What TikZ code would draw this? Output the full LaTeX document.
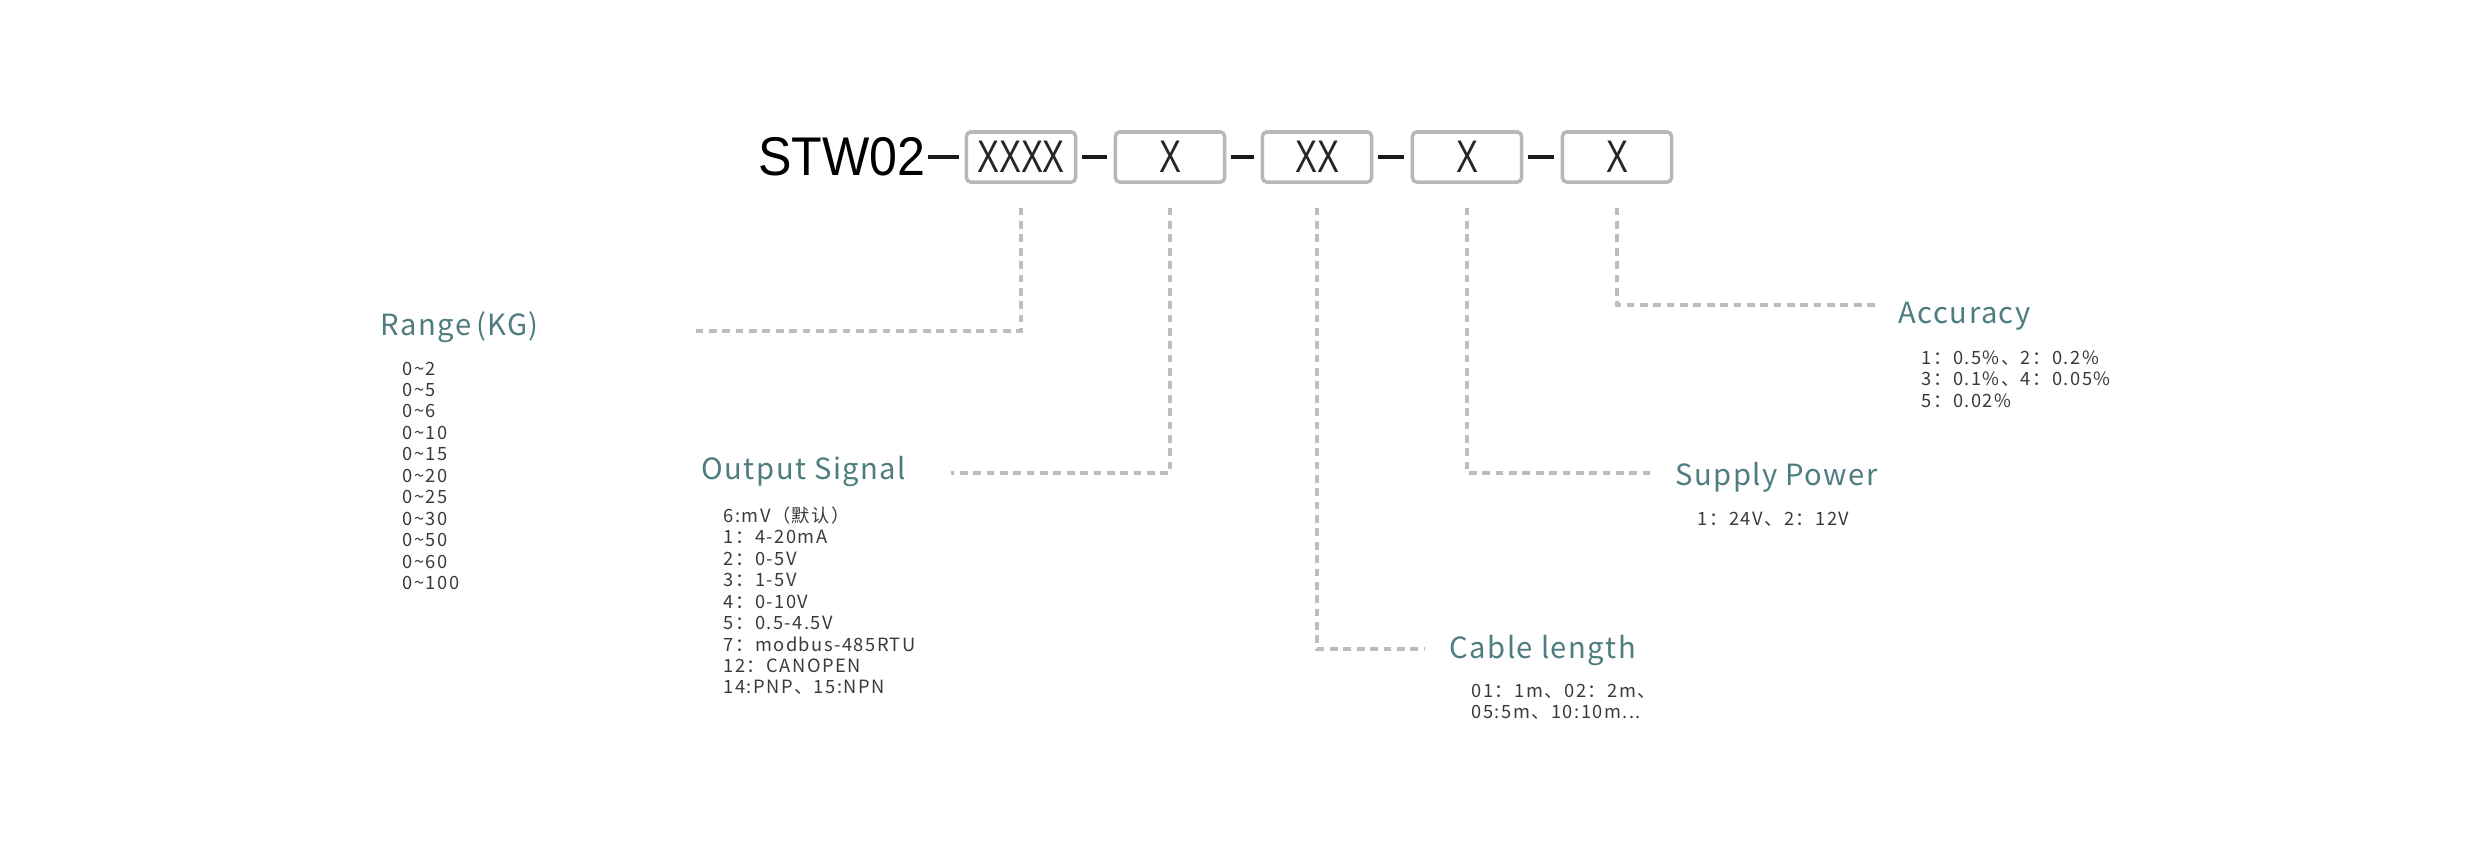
\documentclass[tikz,border=0pt]{standalone}
\usepackage{fontspec}
\setmainfont{Noto Sans CJK SC}
\newfontfamily\boxfont{Liberation Sans}
\newfontfamily\bodyfont[LetterSpace=8]{Noto Sans CJK SC}
\newfontfamily\titlefont[LetterSpace=5]{Noto Sans CJK SC}
\definecolor{teal1}{HTML}{4E7C80}
\definecolor{txt}{HTML}{3A3A3A}
\definecolor{dash}{HTML}{BDBDBD}
\definecolor{boxc}{HTML}{B8B8B8}
\begin{document}
\begin{tikzpicture}[x=0.01cm,y=-0.01cm,
  box/.style={draw=boxc,line width=1pt,rounded corners=1.2pt,minimum width=1.09cm,minimum height=0.5cm,inner sep=0pt,font=\boxfont\fontsize{13}{13}\selectfont,text=black!85},
  sep/.style={line width=1.2pt,black!90},
  lead/.style={draw=dash,line width=0.9pt,dash pattern=on 2.2pt off 1.6pt},
  title/.style={anchor=west,text=teal1,font=\titlefont\fontsize{8.3}{10}\selectfont,inner sep=0pt},
  body/.style={anchor=north west,align=left,text=txt,font=\bodyfont\fontsize{5.2}{6.1}\selectfont,inner sep=0pt}]
\useasboundingbox (0,0) rectangle (2481,859);
\node[anchor=east,inner sep=0pt,font=\boxfont\fontsize{15.5}{16}\selectfont] (stw) at (926,157) {\scalebox{0.92}[1]{STW02}};
\node[box] (b1) at (1021,157) {\scalebox{0.72}[1]{XXXX}};
\node[box] (b2) at (1170,157) {\scalebox{0.72}[1]{X}};
\node[box] (b3) at (1317,157) {\scalebox{0.72}[1]{XX}};
\node[box] (b4) at (1467,157) {\scalebox{0.72}[1]{X}};
\node[box] (b5) at (1617,157) {\scalebox{0.72}[1]{X}};
\draw[sep] ([xshift=0.6pt]stw.east) -- ([xshift=-1.5pt]b1.west);
\draw[sep] ([xshift=1.2pt]b1.east) -- ([xshift=-1.8pt]b2.west);
\draw[sep] ([xshift=1.2pt]b2.east) -- ([xshift=-1.8pt]b3.west);
\draw[sep] ([xshift=1.2pt]b3.east) -- ([xshift=-1.8pt]b4.west);
\draw[sep] ([xshift=1.2pt]b4.east) -- ([xshift=-1.8pt]b5.west);
\coordinate (e1) at (691,331);
\coordinate (e2) at (951,473);
\coordinate (e3) at (1424,649);
\coordinate (e4) at (1653,473);
\coordinate (e5) at (1875,305);
\draw[lead] ([yshift=-6.8pt]b1.south) |- (e1);
\draw[lead] ([yshift=-6.8pt]b2.south) |- (e2);
\draw[lead] ([yshift=-6.8pt]b3.south) |- (e3);
\draw[lead] ([yshift=-6.8pt]b4.south) |- (e4);
\draw[lead] ([yshift=-6.8pt]b5.south) |- (e5);
\node[title] (t1) at (380,327) {Range\,(KG)};
\node[body] (l1) at (402,361) {0\textasciitilde2\\0\textasciitilde5\\0\textasciitilde6\\0\textasciitilde10\\0\textasciitilde15\\0\textasciitilde20\\0\textasciitilde25\\0\textasciitilde30\\0\textasciitilde50\\0\textasciitilde60\\0\textasciitilde100};
\node[title] (t2) at (701,472) {Output Signal};
\node[body] (l2) at (723,506) {6:mV（默认）\\1：4-20mA\\2：0-5V\\3：1-5V\\4：0-10V\\5：0.5-4.5V\\7：modbus-485RTU\\12：CANOPEN\\14:PNP、15:NPN};
\node[title] (t3) at (1449,651) {Cable length};
\node[body] (l3) at (1471,683) {01：1m、02：2m、\\05:5m、10:10m...};
\node[title] (t4) at (1675,477) {Supply Power};
\node[body] (l4) at (1697,511) {1：24V、2：12V};
\node[title] (t5) at (1898,316) {Accuracy};
\node[body] (l5) at (1921,350) {1：0.5\%、2：0.2\%\\3：0.1\%、4：0.05\%\\5：0.02\%};
\end{tikzpicture}
\end{document}
